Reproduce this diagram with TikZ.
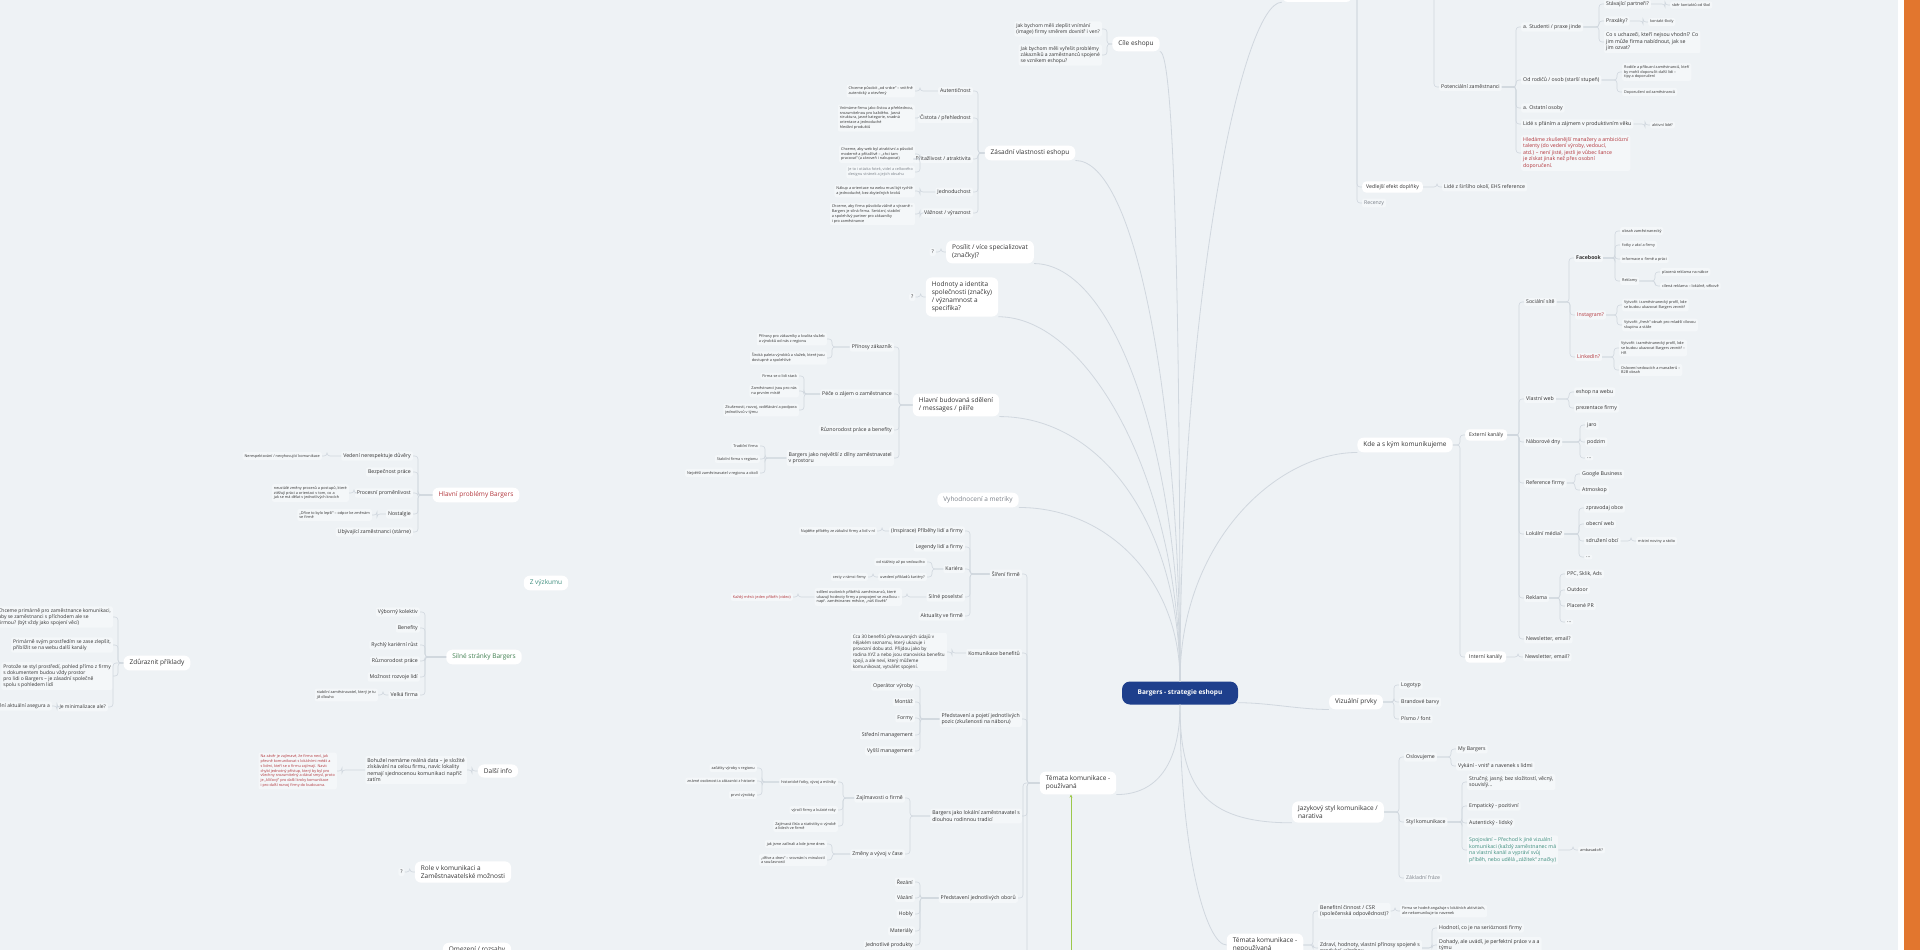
\documentclass[tikz,border=0pt]{standalone}
\usepackage{fontspec}
\setmainfont{Open Sans}
\usetikzlibrary{arrows.meta,positioning,calc}

\definecolor{bgc}{HTML}{EEF2F5}
\definecolor{navy}{HTML}{1E3F8C}
\definecolor{linec}{HTML}{D0D7DE}
\definecolor{txt}{HTML}{333333}
\definecolor{redtxt}{HTML}{B2353B}
\definecolor{greentxt}{HTML}{3F7F4F}
\definecolor{tealtxt}{HTML}{3E8E7E}
\definecolor{greytxt}{HTML}{7A8088}
\definecolor{arrowg}{HTML}{9CC84B}
\definecolor{stripe}{HTML}{E2762E}
\definecolor{subfill}{HTML}{F4F7F9}

% child to the left / right of its parent
\newcommand\lkid[2]{\draw[spine] (#2.east) -- ++(5,0) |- (#1.west);}
\newcommand\rkid[2]{\draw[spine] (#2.west) -- ++(-5,0) |- (#1.east);}

\begin{document}
\begin{tikzpicture}[x=1pt,y=-1pt,
    rootnode/.style={fill=navy,rounded corners=8pt,minimum width=116pt,minimum height=23pt,
                     font=\fontsize{6.5}{8}\selectfont\bfseries,text=white},
    topic/.style={fill=white,rounded corners=6pt,inner xsep=6pt,inner ysep=4pt,
                  font=\fontsize{6.5}{8.2}\selectfont,text=txt,align=left},
    sub/.style={fill=subfill,rounded corners=2pt,inner sep=2pt,
                font=\fontsize{5.2}{6.6}\selectfont,text=txt,align=left},
    subbox/.style={sub,fill=white,rounded corners=4pt,inner xsep=4pt,inner ysep=3pt},
    cq/.style={sub,font=\fontsize{5}{6.2}\selectfont},
    mid/.style={sub,font=\fontsize{4.6}{5.9}\selectfont},
    leaf/.style={sub,font=\fontsize{3.8}{4.8}\selectfont},
    lft/.style={anchor=east},
    rgt/.style={anchor=west},
    spine/.style={draw=linec,line width=0.6pt,rounded corners=3pt},
    branch/.style={draw=linec,line width=0.8pt},
    garrow/.style={draw=arrowg,line width=0.8pt,-{Stealth[length=3pt,width=3pt]}},
  ]
\useasboundingbox (0,0) rectangle (1920,950);
\fill[bgc] (0,0) rectangle (1920,950);
\fill[white] (1898,0) rectangle (1904,950);
\fill[stripe] (1904,0) rectangle (1920,950);

% ---------- root ----------
\node[rootnode] (root) at (1180,693) {Bargers - strategie eshopu};

% ---------- left branches ----------
\node[topic] (cile) at (1136,44) {Cíle eshopu};
\node[cq,lft] (cileA) at (1102,29) {Jak bychom měli zlepšit vnímání\\(image) firmy směrem dovnitř i ven?};
\node[cq,lft] (cileB) at (1102,55) {Jak bychom měli vyřešit problémy\\zákazníků a zaměstnanců spojené\\se vznikem eshopu?};

\node[topic] (vlast) at (1030,153) {Zásadní vlastnosti eshopu};
\node[sub,lft] (vl1) at (973,91) {Autentičnost};
\node[sub,lft] (vl2) at (973,118) {Čistota / přehlednost};
\node[sub,lft] (vl3) at (973,159) {Přitažlivost / atraktivita};
\node[sub,lft] (vl4) at (973,192) {Jednoduchost};
\node[sub,lft] (vl5) at (973,213) {Vážnost / výraznost};
\node[leaf,lft] (vl1a) at (915,91) {Chceme působit „od srdce“ – vnitřně\\autentický a otevřený};
\node[leaf,lft] (vl2a) at (915,118) {Vnímáme firmu jako čistou a přehlednou,\\srozumitelnou pro každého. Jasná\\struktura, jasné kategorie, snadná\\orientace a jednoduché\\hledání produktů};
\node[leaf,lft] (vl3a) at (915,154) {Chceme, aby web byl atraktivní a působil\\moderně a přitažlivě – „chci tam\\pracovat“ (a zároveň i nakupovat)};
\node[leaf,lft,text=greytxt] (vl3b) at (915,172) {Je to i otázka fotek, videí a celkového\\designu stránek a jejich obsahu};
\node[leaf,lft] (vl4a) at (915,191) {Nákup a orientace na webu musí být rychlé\\a jednoduché, bez zbytečných kroků};
\node[leaf,lft] (vl5a) at (915,214) {Chceme, aby firma působila vážně a výrazně –\\Bargers je silná firma. Seriózní, stabilní\\a spolehlivý partner pro zákazníky\\i pro zaměstnance};

\node[topic] (posil) at (990,252) {Posílit / více specializovat\\(značky)?};
\node[sub,left=10pt of posil] (posilq) {?};
\node[topic] (hodn) at (962,297) {Hodnoty a identita\\společnosti (značky)\\/ významnost a\\specifika?};
\node[sub,left=10pt of hodn] (hodnq) {?};

\node[topic] (sdel) at (956,405) {Hlavní budovaná sdělení\\/ messages / pilíře};
\node[sub,lft] (sd1) at (894,347) {Přínosy zákazník};
\node[sub,lft] (sd2) at (894,394) {Péče o zájem o zaměstnance};
\node[sub,lft] (sd3) at (894,430) {Různorodost práce a benefity};
\node[sub,lft] (sd4) at (894,458) {Bargers jako největší z dílny zaměstnavatel\\v prostoru};
\node[leaf,lft] (sd1a) at (827,339) {Přínosy pro zákazníky a kvalita služeb\\a výrobků od nás z regionu};
\node[leaf,lft] (sd1b) at (827,358) {Široká paleta výrobků a služeb, které jsou\\dostupné a spolehlivé};
\node[leaf,lft] (sd2a) at (799,376) {Firma se o lidi stará};
\node[leaf,lft] (sd2b) at (799,391) {Zaměstnanci jsou pro nás\\na prvním místě};
\node[leaf,lft] (sd2c) at (799,410) {Zkušenosti, rozvoj, vzdělávání a podpora\\jednotlivců v týmu};
\node[leaf,lft] (sd4a) at (760,446) {Tradiční firma};
\node[leaf,lft] (sd4b) at (760,459) {Stabilní firma v regionu};
\node[leaf,lft] (sd4c) at (760,473) {Největší zaměstnavatel v regionu a okolí};

\node[topic,text=greytxt] (metr) at (978,500) {Vyhodnocení a metriky};

% ---------- topics in use ----------
\node[topic] (tpou) at (1078,783) {Témata komunikace -\\používaná};
\node[sub,lft] (tp1) at (1022,574) {Šíření firmě};
\node[sub,lft] (tp1a) at (965,531) {(Inspirace) Příběhy lidí a firmy};
\node[leaf,left=12pt of tp1a] (tp1a1) {Najděte příběhy ze zákulisí firmy a lidí v ní};
\node[sub,lft] (tp1b) at (965,547) {Legendy lidí a firmy};
\node[sub,lft] (tp1c) at (965,569) {Kariéra};
\node[leaf,lft] (tp1c1) at (927,562) {od stážisty až po vedoucího};
\node[leaf,lft] (tp1c2) at (927,577) {uvedení příkladů kariéry?};
\node[leaf,left=10pt of tp1c2] (tp1c2a) {cesty v rámci firmy};
\node[sub,lft] (tp1d) at (965,597) {Silné poselství};
\node[leaf,lft] (tp1d1) at (902,597) {sdílení osobních příběhů zaměstnanců, které\\ukazují hodnoty firmy a propojení se značkou –\\např. zaměstnanec měsíce, „náš člověk“};
\node[leaf,lft,text=redtxt] (tp1d1a) at (793,597) {Každý měsíc jeden příběh (video)};
\node[sub,lft] (tp1e) at (965,616) {Aktuality ve firmě};

\node[sub,lft] (tp2) at (1022,653) {Komunikace benefitů};
\node[mid,lft] (tp2a) at (947,652) {Cca 30 benefitů přesouvaných údajů v\\nějakém seznamu, který ukazuje i\\provozní dobu atd. Přijdou jako by\\rodina XYZ a nebo jsou stanoviska benefitu\\spojí, a ale neví, který můžeme\\komunikovat, vytvářet spojení.};

\node[sub,lft] (tp3) at (1022,719) {Představení a pojetí jednotlivých\\pozic (zkušenosti na náboru)};
\node[sub,lft] (tp3a) at (915,686) {Operátor výroby};
\node[sub,lft] (tp3b) at (915,702) {Montáž};
\node[sub,lft] (tp3c) at (915,718) {Formy};
\node[sub,lft] (tp3d) at (915,735) {Střední management};
\node[sub,lft] (tp3e) at (915,751) {Vyšší management};

\node[sub,lft] (tp4) at (1022,816) {Bargers jako lokální zaměstnavatel s\\dlouhou rodinnou tradicí};
\node[sub,lft] (tp4a) at (905,798) {Zajímavosti o firmě};
\node[leaf,lft] (tp4a1) at (838,782) {historické fotky, vývoj a milníky};
\node[leaf,lft] (tp4a1a) at (757,768) {začátky výroby v regionu};
\node[leaf,lft] (tp4a1b) at (757,781) {známé osobnosti a zákazníci z historie};
\node[leaf,lft] (tp4a1c) at (757,795) {první výrobky};
\node[leaf,lft] (tp4a2) at (838,810) {výročí firmy a kulaté roky};
\node[leaf,lft] (tp4a3) at (838,826) {Zajímavá čísla a statistiky o výrobě\\a lidech ve firmě};
\node[sub,lft] (tp4b) at (905,854) {Změny a vývoj v čase};
\node[leaf,lft] (tp4b1) at (827,844) {jak jsme začínali a kde jsme dnes};
\node[leaf,lft] (tp4b2) at (827,860) {„dříve a dnes“ – srovnání s minulostí\\a současností};

\node[sub,lft] (tp5) at (1018,898) {Představení jednotlivých oborů};
\node[sub,lft] (tp5a) at (915,882) {Řezání};
\node[sub,lft] (tp5b) at (915,898) {Vázání};
\node[sub,lft] (tp5c) at (915,914) {Hobly};
\node[sub,lft] (tp5d) at (915,931) {Materiály};
\node[sub,lft] (tp5e) at (915,945) {Jednotlivé produkty};
\coordinate (tpdown) at (1027,960);
\coordinate (gsrc) at (1071,960);

% ---------- right branches ----------
\node[topic,minimum width=70pt,minimum height=18pt] (topn) at (1317,-7) {};
\node[subbox,rgt] (vedl) at (1362,187) {Vedlejší efekt doplňky};
\node[sub,rgt,text=greytxt] (recz) at (1362,203) {Recenzy};
\node[sub,rgt] (vedl1) at (1442,187) {Lidé z širšího okolí, EHS reference};

\coordinate (potup) at (1434,-5);
\node[sub,rgt] (pot) at (1439,87) {Potenciální zaměstnanci};
\node[sub,rgt] (pot1) at (1521,27) {a. Studenti / praxe jinde};
\node[sub,rgt] (pot1a) at (1604,4) {Stávající partneři?};
\node[leaf,rgt] (pot1a1) at (1670,5) {sběr kontaktů od škol};
\node[sub,rgt] (pot1b) at (1604,21) {Praxáky?};
\node[leaf,rgt] (pot1b1) at (1648,22) {kontakt školy};
\node[sub,rgt] (pot1c) at (1604,42) {Co s uchazeči, kteří nejsou vhodní? Co\\jim může firma nabídnout, jak se\\jim ozvat?};
\node[sub,rgt] (pot2) at (1521,80) {Od rodičů / osob (starší stupeň)};
\node[leaf,rgt] (pot2a) at (1622,72) {Rodiče a příbuzní zaměstnanců, kteří\\by mohli doporučit další lidi –\\tipy a doporučení};
\node[leaf,rgt] (pot2b) at (1622,92) {Doporučení od zaměstnanců};
\node[sub,rgt] (pot3) at (1521,108) {a. Ostatní osoby};
\node[sub,rgt] (pot4) at (1521,124) {Lidé s přáním a zájmem v produktivním věku};
\node[leaf,rgt] (pot4a) at (1650,125) {aktivní lidé?};
\node[sub,rgt,text=redtxt] (pot5) at (1521,153) {Hledáme zkušenější manažery a ambiciózní\\talenty (do vedení výroby, vedoucí,\\atd.) – není jisté, jestli je vůbec šance\\je získat jinak než přes osobní\\doporučení.};

\node[topic] (kde) at (1405,445) {Kde a s kým komunikujeme};
\node[subbox,rgt] (ext) at (1465,435) {Externí kanály};
\node[sub,rgt] (soc) at (1524,302) {Sociální sítě};
\node[sub,rgt,font=\fontsize{5.2}{6.6}\selectfont\bfseries] (fb) at (1574,258) {Facebook};
\node[leaf,rgt] (fb1) at (1620,231) {obsah zaměstnanecký};
\node[leaf,rgt] (fb2) at (1620,245) {fotky z akcí a firmy};
\node[leaf,rgt] (fb3) at (1620,259) {informace o firmě a práci};
\node[leaf,rgt] (fb4) at (1620,281) {Reklamy};
\node[leaf,rgt] (fb4a) at (1660,272) {placená reklama na nábor};
\node[leaf,rgt] (fb4b) at (1660,286) {cílená reklama – lokálně, věkově};
\node[sub,rgt,text=redtxt] (ig) at (1575,315) {Instagram?};
\node[leaf,rgt] (ig1) at (1622,305) {Vytvořit i zaměstnanecký profil, kde\\se budou ukazovat Bargers zevnitř};
\node[leaf,rgt] (ig2) at (1622,325) {Vytvořit „fresh“ obsah pro mladší cílovou\\skupinu a stáže};
\node[sub,rgt,text=redtxt] (li) at (1575,357) {LinkedIn?};
\node[leaf,rgt] (li1) at (1619,348) {Vytvořit i zaměstnanecký profil, kde\\se budou ukazovat Bargers zevnitř –\\HR};
\node[leaf,rgt] (li2) at (1619,370) {Oslovení vedoucích a manažerů –\\B2B obsah};
\node[sub,rgt] (web) at (1524,399) {Vlastní web};
\node[sub,rgt] (web1) at (1574,392) {eshop na webu};
\node[sub,rgt] (web2) at (1574,408) {prezentace firmy};
\node[sub,rgt] (nab) at (1524,442) {Náborové dny};
\node[sub,rgt] (nab1) at (1585,425) {jaro};
\node[sub,rgt] (nab2) at (1585,442) {podzim};
\node[sub,rgt] (nab3) at (1585,458) {...};
\node[sub,rgt] (ref) at (1524,483) {Reference firmy};
\node[sub,rgt] (ref1) at (1580,474) {Google Business};
\node[sub,rgt] (ref2) at (1580,490) {Atmoskop};
\node[sub,rgt] (lok) at (1524,534) {Lokální média?};
\node[sub,rgt] (lok1) at (1584,508) {zpravodaj obce};
\node[sub,rgt] (lok2) at (1584,524) {obecní web};
\node[sub,rgt] (lok3) at (1584,541) {sdružení obcí};
\node[leaf,rgt] (lok3a) at (1636,541) {místní noviny a rádio};
\node[sub,rgt] (lok4) at (1584,557) {...};
\node[sub,rgt] (rekl) at (1524,598) {Reklama};
\node[sub,rgt] (rekl1) at (1565,574) {PPC, Sklik, Ads};
\node[sub,rgt] (rekl2) at (1565,590) {Outdoor};
\node[sub,rgt] (rekl3) at (1565,606) {Placené PR};
\node[sub,rgt] (rekl4) at (1565,622) {...};
\node[sub,rgt] (news) at (1524,639) {Newsletter, email?};
\node[subbox,rgt] (int) at (1465,657) {Interní kanály};
\node[sub,rgt] (int1) at (1523,657) {Newsletter, email?};

\node[topic] (viz) at (1356,702) {Vizuální prvky};
\node[sub,rgt] (viz1) at (1399,685) {Logotyp};
\node[sub,rgt] (viz2) at (1399,702) {Brandové barvy};
\node[sub,rgt] (viz3) at (1399,719) {Písmo / font};

\node[topic] (jaz) at (1338,812) {Jazykový styl komunikace /\\narativa};
\node[sub,rgt] (osl) at (1404,757) {Oslovujeme};
\node[sub,rgt] (osl1) at (1456,749) {My Bargers};
\node[sub,rgt] (osl2) at (1456,766) {Vykání - vnitř a navenek s lidmi};
\node[sub,rgt] (styl) at (1404,822) {Styl komunikace};
\node[sub,rgt] (styl1) at (1467,782) {Stručný, jasný, bez složitostí, věcný,\\souvislý...};
\node[sub,rgt] (styl2) at (1467,806) {Empatický - pozitivní};
\node[sub,rgt] (styl3) at (1467,823) {Autentický - lidský};
\node[sub,rgt,text=tealtxt] (styl4) at (1467,850) {Spojování – Přechod k jiné vizuální\\komunikaci (každý zaměstnanec má\\na vlastní kanál a vypráví svůj\\příběh, nebo udělá „zážitek“ značky)};
\node[leaf,rgt] (styl4a) at (1578,850) {ambasadoři?};
\node[sub,rgt,text=greytxt] (fraze) at (1404,878) {Základní fráze};

\node[topic] (nep) at (1265,945) {Témata komunikace -\\nepoužívaná};
\node[sub,rgt] (nep1) at (1318,911) {Benefitní činnost / CSR\\(společenská odpovědnost)?};
\node[leaf,rgt] (nep1a) at (1400,911) {Firma se hodně angažuje v lokálních aktivitách,\\ale nekomunikuje to navenek};
\node[sub,rgt] (nep2) at (1318,948) {Zdraví, hodnoty, vlastní přínosy spojené s\\produkcí, výrobou...};
\node[sub,rgt] (nep2a) at (1437,928) {Hodnotí, co je na serióznosti firmy};
\node[sub,rgt] (nep2b) at (1437,945) {Dohady, ale uvádí, je perfektní práce v a a\\týmu};

% ---------- floating topics ----------
\node[topic,text=redtxt] (prob) at (476,495) {Hlavní problémy Bargers};
\node[sub,lft] (pr1) at (413,456) {Vedení nerespektuje důvěry};
\node[leaf,lft] (pr1a) at (322,456) {Nerespektování / nevyhovující komunikace};
\node[sub,lft] (pr2) at (413,472) {Bezpečnost práce};
\node[sub,lft] (pr3) at (413,493) {Procesní proměnlivost};
\node[leaf,lft] (pr3a) at (349,493) {neustálé změny procesů a postupů, které\\ztěžují práci a orientaci v tom, co a\\jak se má dělat v jednotlivých krocích};
\node[sub,lft] (pr4) at (413,514) {Nostalgie};
\node[leaf,lft] (pr4a) at (372,515) {„Dříve to bylo lepší“ – odpor ke změnám\\ve firmě};
\node[sub,lft] (pr5) at (413,532) {Ubývající zaměstnanci (stárne)};

\node[topic,text=tealtxt] (vyzk) at (546,583) {Z výzkumu};

\node[topic,text=greentxt] (siln) at (484,657) {Silné stránky Bargers};
\node[sub,lft] (si1) at (420,612) {Výborný kolektiv};
\node[sub,lft] (si2) at (420,628) {Benefity};
\node[sub,lft] (si3) at (420,645) {Rychlý kariérní růst};
\node[sub,lft] (si4) at (420,661) {Různorodost práce};
\node[sub,lft] (si5) at (420,677) {Možnost rozvoje lidí};
\node[sub,lft] (si6) at (420,695) {Velká firma};
\node[leaf,lft] (si6a) at (378,695) {stabilní zaměstnavatel, který je tu\\již dlouho};

\node[topic] (zdur) at (157,663) {Zdůraznit příklady};
\node[cq,lft] (zd1) at (113,617) {Chceme primárně pro zaměstnance komunikaci,\\aby se zaměstnanci s příchodem ale se\\firmou? (být vždy jako spojení věcí)};
\node[cq,lft] (zd2) at (113,645) {Primárně svým prostředím se zase zlepšit,\\přiblížit se na webu další kanály};
\node[cq,lft] (zd3) at (113,676) {Protože se styl prostředí, pohled přímo z firmy\\s dokumentem budou vždy prostor\\pro lidi o Bargers – je zásadní společně\\spolu s pohledem lidí};
\node[cq,lft] (zd4) at (108,707) {Je minimalizace ale?};
\node[cq,lft] (zd4a) at (52,706) {Zjištění aktuální asegura a};

\node[topic] (dalsi) at (498,771) {Další info};
\node[sub,lft] (dal1) at (467,770) {Bohužel nemáme reálná data – je složité\\získávání na celou firmu, navíc lokality\\nemají sjednocenou komunikaci napříč\\zatím};
\node[leaf,lft,text=redtxt] (dal1a) at (337,771) {Na závěr je zajímavé, že firma neví, jak\\přesně komunikovat s lokálními médii a\\s lidmi, kteří se o firmu zajímají. Navíc\\chybí jednotný přístup, který by byl pro\\všechny srozumitelný a dával smysl, proto\\je „klíčový“ pro další kroky komunikace\\i pro další rozvoj firmy do budoucna.};

\node[topic] (role) at (463,872) {Role v komunikaci a\\Zaměstnavatelské možnosti};
\node[sub,left=10pt of role] (roleq) {?};
\node[topic] (omez) at (477,950) {Omezení / rozsahy};

% ---------- connectors from the root ----------
\draw[branch] (root.north) .. controls +(0,-350) and +(15,0) .. (cile.south east);
\draw[branch] (root.north) .. controls +(0,-280) and +(60,0) .. (vlast.south east);
\draw[branch] (root.north) .. controls +(0,-230) and +(80,0) .. (posil.south east);
\draw[branch] (root.north) .. controls +(0,-200) and +(90,0) .. (hodn.south east);
\draw[branch] (root.north) .. controls +(0,-160) and +(100,0) .. (sdel.south east);
\draw[branch] (root.north) .. controls +(0,-100) and +(90,0) .. (metr.south east);
\draw[branch] (root.north) .. controls +(0,-380) and +(-40,0) .. (topn.south west);
\draw[branch] (root.north) .. controls +(0,-140) and +(-80,0) .. (kde.south west);
\draw[branch] ([yshift=2pt]root.south east) .. controls +(30,0) and +(-30,0) .. (viz.south west);
\draw[branch] (root.south) .. controls +(0,80) and +(-90,0) .. (jaz.south west);
\draw[branch] (root.south) .. controls +(0,60) and +(40,0) .. (tpou.south east);
\draw[branch] (root.south) .. controls +(0,150) and +(-20,0) .. (nep.west);

% ---------- children ----------
\lkid{cile}{cileA} \lkid{cile}{cileB}
\foreach \k in {vl1,vl2,vl3,vl4,vl5} {\lkid{vlast}{\k}}
\lkid{vl1}{vl1a} \lkid{vl2}{vl2a} \lkid{vl3}{vl3a} \lkid{vl3}{vl3b}
\lkid{vl4}{vl4a} \lkid{vl5}{vl5a}
\lkid{posil}{posilq} \lkid{hodn}{hodnq}
\foreach \k in {sd1,sd2,sd3,sd4} {\lkid{sdel}{\k}}
\lkid{sd1}{sd1a} \lkid{sd1}{sd1b}
\foreach \k in {sd2a,sd2b,sd2c} {\lkid{sd2}{\k}}
\foreach \k in {sd4a,sd4b,sd4c} {\lkid{sd4}{\k}}

\foreach \k in {tp1,tp2,tp3,tp4,tp5} {\lkid{tpou}{\k}}
\draw[spine] (tpou.west) -| (tpdown);
\draw[garrow] (gsrc) -- (tpou.south -| gsrc);
\foreach \k in {tp1a,tp1b,tp1c,tp1d,tp1e} {\lkid{tp1}{\k}}
\lkid{tp1a}{tp1a1} \lkid{tp1c}{tp1c1} \lkid{tp1c}{tp1c2} \lkid{tp1c2}{tp1c2a}
\lkid{tp1d}{tp1d1} \lkid{tp1d1}{tp1d1a}
\lkid{tp2}{tp2a}
\foreach \k in {tp3a,tp3b,tp3c,tp3d,tp3e} {\lkid{tp3}{\k}}
\lkid{tp4}{tp4a} \lkid{tp4}{tp4b}
\foreach \k in {tp4a1,tp4a2,tp4a3} {\lkid{tp4a}{\k}}
\foreach \k in {tp4a1a,tp4a1b,tp4a1c} {\lkid{tp4a1}{\k}}
\lkid{tp4b}{tp4b1} \lkid{tp4b}{tp4b2}
\foreach \k in {tp5a,tp5b,tp5c,tp5d,tp5e} {\lkid{tp5}{\k}}

\rkid{topn}{vedl} \rkid{topn}{recz} \rkid{vedl}{vedl1}
\draw[spine] (potup) |- (pot.west);
\foreach \k in {pot1,pot2,pot3,pot4,pot5} {\rkid{pot}{\k}}
\foreach \k in {pot1a,pot1b,pot1c} {\rkid{pot1}{\k}}
\rkid{pot1a}{pot1a1} \rkid{pot1b}{pot1b1}
\rkid{pot2}{pot2a} \rkid{pot2}{pot2b} \rkid{pot4}{pot4a}

\rkid{kde}{ext} \rkid{kde}{int} \rkid{int}{int1}
\foreach \k in {soc,web,nab,ref,lok,rekl,news} {\rkid{ext}{\k}}
\foreach \k in {fb,ig,li} {\rkid{soc}{\k}}
\foreach \k in {fb1,fb2,fb3,fb4} {\rkid{fb}{\k}}
\rkid{fb4}{fb4a} \rkid{fb4}{fb4b}
\rkid{ig}{ig1} \rkid{ig}{ig2} \rkid{li}{li1} \rkid{li}{li2}
\rkid{web}{web1} \rkid{web}{web2}
\foreach \k in {nab1,nab2,nab3} {\rkid{nab}{\k}}
\rkid{ref}{ref1} \rkid{ref}{ref2}
\foreach \k in {lok1,lok2,lok3,lok4} {\rkid{lok}{\k}}
\rkid{lok3}{lok3a}
\foreach \k in {rekl1,rekl2,rekl3,rekl4} {\rkid{rekl}{\k}}

\foreach \k in {viz1,viz2,viz3} {\rkid{viz}{\k}}
\rkid{jaz}{osl} \rkid{jaz}{styl} \rkid{jaz}{fraze}
\rkid{osl}{osl1} \rkid{osl}{osl2}
\foreach \k in {styl1,styl2,styl3,styl4} {\rkid{styl}{\k}}
\rkid{styl4}{styl4a}
\rkid{nep}{nep1} \rkid{nep}{nep2} \rkid{nep1}{nep1a}
\rkid{nep2}{nep2a} \rkid{nep2}{nep2b}

\foreach \k in {pr1,pr2,pr3,pr4,pr5} {\lkid{prob}{\k}}
\lkid{pr1}{pr1a} \lkid{pr3}{pr3a} \lkid{pr4}{pr4a}
\foreach \k in {si1,si2,si3,si4,si5,si6} {\lkid{siln}{\k}}
\lkid{si6}{si6a}
\foreach \k in {zd1,zd2,zd3,zd4} {\lkid{zdur}{\k}}
\lkid{zd4}{zd4a}
\lkid{dalsi}{dal1} \lkid{dal1}{dal1a}
\lkid{role}{roleq}
\end{tikzpicture}
\end{document}
